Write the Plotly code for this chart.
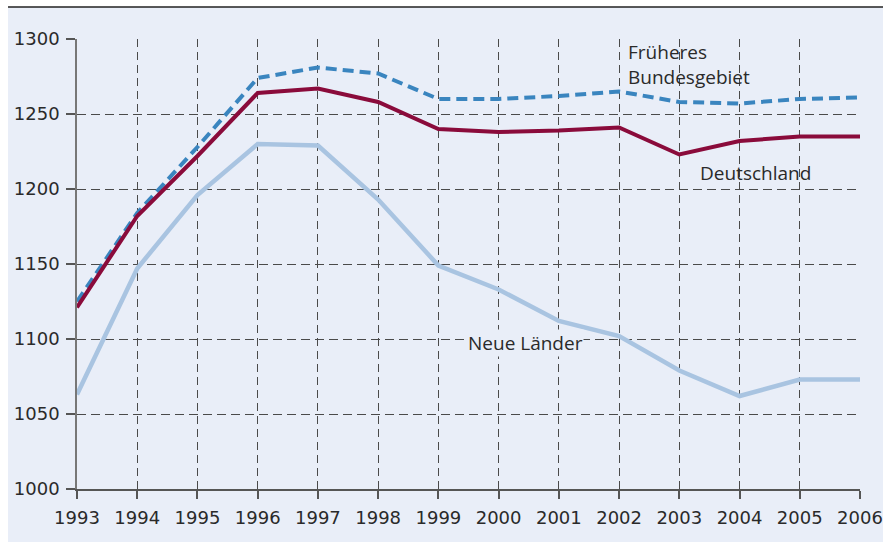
import plotly.graph_objects as go

years = [1993, 1994, 1995, 1996, 1997, 1998, 1999, 2000, 2001, 2002, 2003, 2004, 2005, 2006]
frueheres = [1125, 1184, 1228, 1274, 1281, 1277, 1260, 1260, 1262, 1265, 1258, 1257, 1260, 1261]
deutschland = [1121, 1182, 1222, 1264, 1267, 1258, 1240, 1238, 1239, 1241, 1223, 1232, 1235, 1235]
neue_laender = [1063, 1147, 1196, 1230, 1229, 1193, 1149, 1133, 1112, 1102, 1079, 1062, 1073, 1073]
y_ticks = [1000, 1050, 1100, 1150, 1200, 1250, 1300]

BG = "#E9EEF8"
TXT = "#2a2a2a"
GRID = "#4a4a4a"
TICKFONT = "DejaVu Sans"
LABELFONT = "Open Sans"

fig = go.Figure()
fig.add_trace(go.Scatter(x=years, y=neue_laender, mode="lines",
                         line=dict(color="#A9C4E1", width=4.5), name="Neue Länder"))
fig.add_trace(go.Scatter(x=years, y=frueheres, mode="lines",
                         line=dict(color="#3A85BF", width=4, dash="11px,6px"), name="Früheres Bundesgebiet"))
fig.add_trace(go.Scatter(x=years, y=deutschland, mode="lines",
                         line=dict(color="#8A0B3B", width=4), name="Deutschland"))

# background panel (white border left/top) and top rule
fig.add_shape(type="rect", xref="paper", yref="paper", x0=-0.0881, x1=1.05, y0=-0.2, y1=1.0711,
              fillcolor=BG, line_width=0, layer="below")
fig.add_shape(type="line", xref="paper", yref="paper", x0=-0.0881, x1=1.05, y0=1.0711, y1=1.0711,
              line=dict(color="#222222", width=1.5))

fig.add_annotation(x=2002.12, y=1283, xref="x", yref="y", text="Früheres<br>Bundesgebiet",
                   showarrow=False, xanchor="left", yanchor="middle", align="left",
                   font=dict(family=LABELFONT, size=19, color=TXT))
fig.add_annotation(x=2004.27, y=1211, xref="x", yref="y", text="Deutschland",
                   showarrow=False, xanchor="center", yanchor="middle",
                   font=dict(family=LABELFONT, size=19, color=TXT))
fig.add_annotation(x=2000.45, y=1097.5, xref="x", yref="y", text="Neue Länder",
                   showarrow=False, xanchor="center", yanchor="middle", bgcolor=BG, borderpad=0,
                   font=dict(family=LABELFONT, size=19, color=TXT))

fig.update_layout(
    width=883, height=542,
    margin=dict(l=77, r=23, t=39, b=53, autoexpand=False),
    paper_bgcolor="white", plot_bgcolor=BG,
    showlegend=False,
    font=dict(family=TICKFONT, size=18, color=TXT),
    xaxis=dict(range=[1993, 2006], tickmode="array", tickvals=years,
               ticktext=[str(y) for y in years],
               tickfont=dict(family=TICKFONT, size=18, color=TXT),
               showgrid=True, gridcolor=GRID, gridwidth=1, griddash="8px,5px",
               showline=True, linecolor="#555555", linewidth=1.5,
               ticks="outside", ticklen=8, tickcolor="#555555", tickwidth=1.5,
               zeroline=False, fixedrange=True, ticklabelstandoff=4),
    yaxis=dict(range=[1000, 1300], tickmode="array", tickvals=y_ticks,
               tickfont=dict(family=TICKFONT, size=18, color=TXT),
               showgrid=True, gridcolor=GRID, gridwidth=1, griddash="9px,5px",
               showline=True, linecolor="#777777", linewidth=1.5,
               ticks="outside", ticklen=9, tickcolor="#555555", tickwidth=1.5,
               zeroline=False, fixedrange=True, ticklabelstandoff=3),
)

fig.write_html("out.html", config={"displayModeBar": False},
               post_script="document.body.style.margin='0';document.body.style.overflow='hidden';")
